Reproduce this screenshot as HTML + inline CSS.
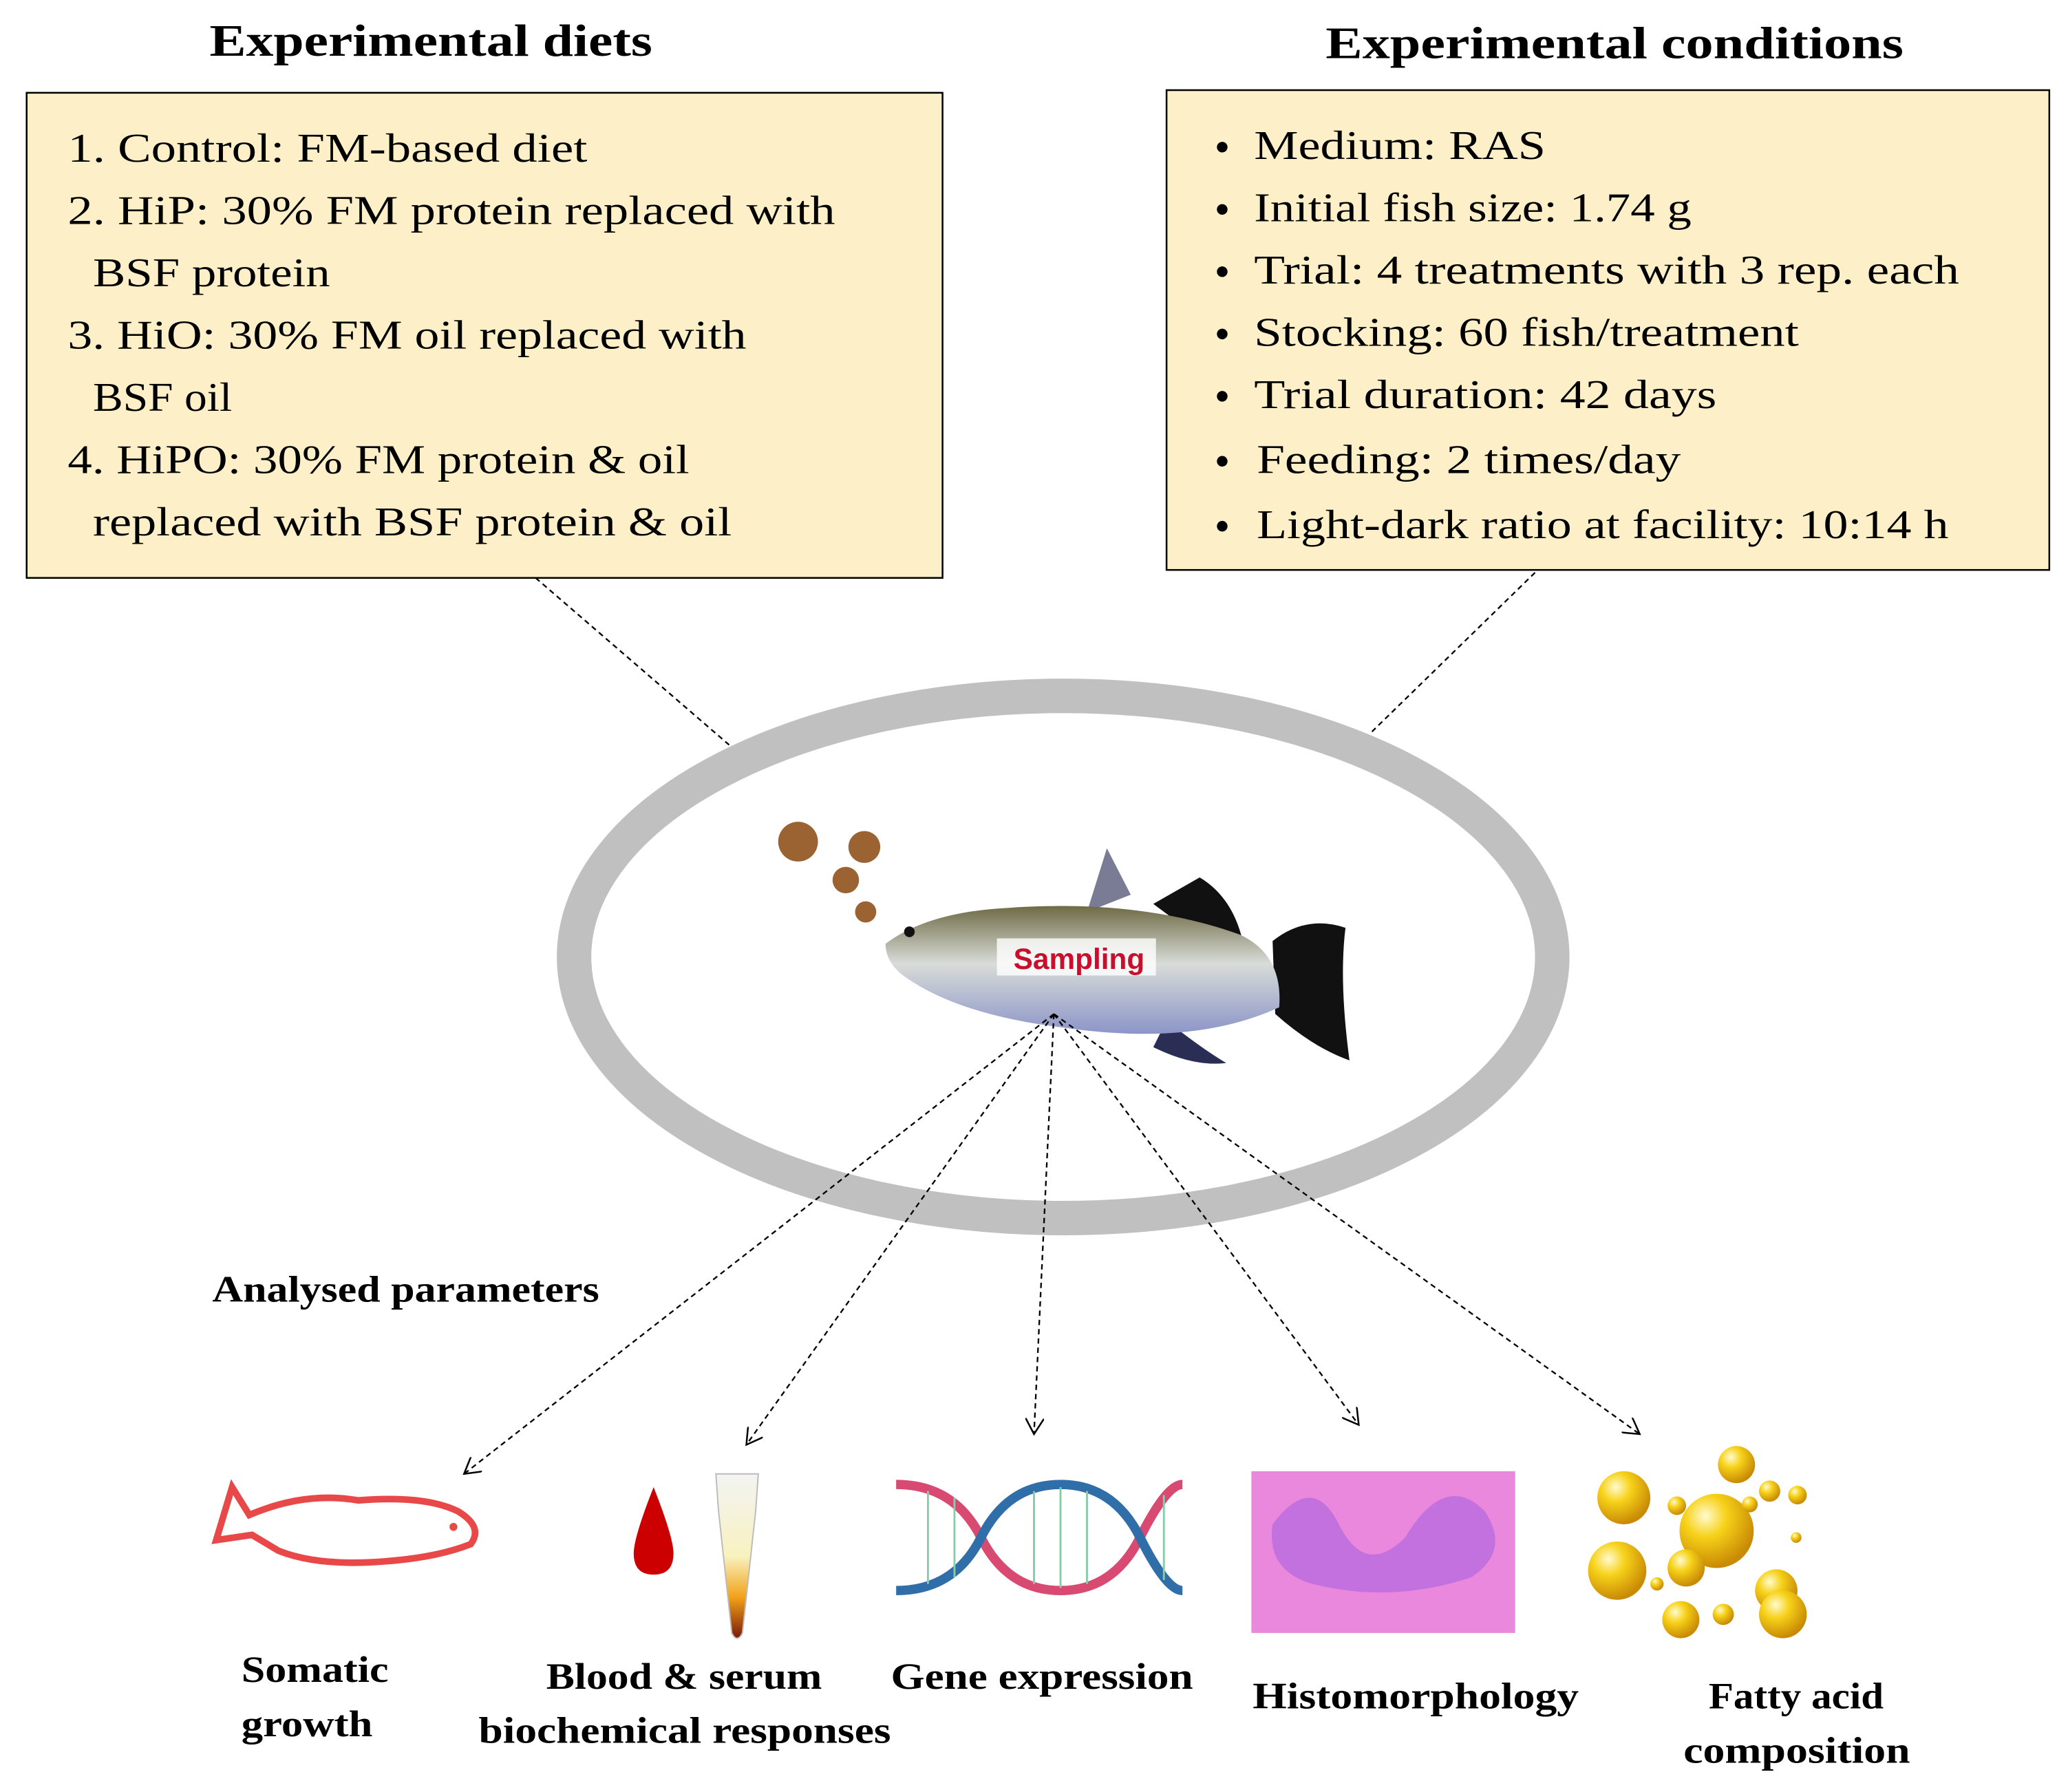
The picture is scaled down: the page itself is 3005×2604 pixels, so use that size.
<!DOCTYPE html>
<html><head><meta charset="utf-8"><style>
html,body{margin:0;padding:0;background:#fff}
svg{display:block}
text{font-family:"Liberation Serif",serif;fill:#000}
.b{font-weight:bold}
</style></head><body>
<svg width="3005" height="2604" viewBox="0 0 1560 1352" xmlns="http://www.w3.org/2000/svg">
<defs>
<marker id="ah" markerWidth="14" markerHeight="14" refX="12" refY="7" orient="auto" markerUnits="userSpaceOnUse">
<path d="M0,0 L12,7 L0,14" fill="none" stroke="#000" stroke-width="1.3"/></marker>
<radialGradient id="gold" cx="0.35" cy="0.3" r="0.7"><stop offset="0" stop-color="#fffbd0"/><stop offset="0.4" stop-color="#f7d21a"/><stop offset="1" stop-color="#c98a05"/></radialGradient>
<linearGradient id="fishg" x1="0" y1="0" x2="0" y2="1"><stop offset="0" stop-color="#6e6a45"/><stop offset="0.45" stop-color="#d8dcd8"/><stop offset="1" stop-color="#8c95c8"/></linearGradient>
<linearGradient id="tube" x1="0" y1="0" x2="0" y2="1"><stop offset="0" stop-color="#f3f3f3"/><stop offset="0.5" stop-color="#f8f2c0"/><stop offset="0.75" stop-color="#f2a21a"/><stop offset="1" stop-color="#7a1a08"/></linearGradient>
</defs>

<text x="158" y="42" class="b" font-size="34" textLength="334" lengthAdjust="spacingAndGlyphs">Experimental diets</text>
<text x="1000" y="44" class="b" font-size="34" textLength="436" lengthAdjust="spacingAndGlyphs">Experimental conditions</text>

<rect x="20" y="70" width="691" height="366" fill="#fdf0c8" stroke="#000" stroke-width="1.3"/>
<g font-size="31" lengthAdjust="spacingAndGlyphs">
<text x="51" y="122" textLength="392" lengthAdjust="spacingAndGlyphs">1. Control: FM-based diet</text>
<text x="51" y="169" textLength="579" lengthAdjust="spacingAndGlyphs">2. HiP: 30% FM protein replaced with</text>
<text x="70" y="216" textLength="179" lengthAdjust="spacingAndGlyphs">BSF protein</text>
<text x="51" y="263" textLength="512" lengthAdjust="spacingAndGlyphs">3. HiO: 30% FM oil replaced with</text>
<text x="70" y="310" textLength="105" lengthAdjust="spacingAndGlyphs">BSF oil</text>
<text x="51" y="357" textLength="469" lengthAdjust="spacingAndGlyphs">4. HiPO: 30% FM protein &amp; oil</text>
<text x="70" y="404" textLength="482" lengthAdjust="spacingAndGlyphs">replaced with BSF protein &amp; oil</text>
</g>

<rect x="880" y="68" width="666" height="362" fill="#fdf0c8" stroke="#000" stroke-width="1.3"/>
<g font-size="31">
<g fill="#000"><circle cx="922" cy="111" r="4"/><circle cx="922" cy="158" r="4"/><circle cx="922" cy="205" r="4"/><circle cx="922" cy="252" r="4"/><circle cx="922" cy="299" r="4"/><circle cx="922" cy="348" r="4"/><circle cx="922" cy="397" r="4"/></g>
<text x="946" y="120" textLength="220" lengthAdjust="spacingAndGlyphs">Medium: RAS</text>
<text x="946" y="167" textLength="330" lengthAdjust="spacingAndGlyphs">Initial fish size: 1.74 g</text>
<text x="946" y="214" textLength="532" lengthAdjust="spacingAndGlyphs">Trial: 4 treatments with 3 rep. each</text>
<text x="946" y="261" textLength="411" lengthAdjust="spacingAndGlyphs">Stocking: 60 fish/treatment</text>
<text x="946" y="308" textLength="349" lengthAdjust="spacingAndGlyphs">Trial duration: 42 days</text>
<text x="948" y="357" textLength="320" lengthAdjust="spacingAndGlyphs">Feeding: 2 times/day</text>
<text x="948" y="406" textLength="522" lengthAdjust="spacingAndGlyphs">Light-dark ratio at facility: 10:14 h</text>
</g>

<g stroke="#000" stroke-width="1.2" stroke-dasharray="4,3" fill="none">
<line x1="404" y1="436" x2="550" y2="562"/>
<line x1="1158" y1="432" x2="1035" y2="552"/>
</g>

<ellipse cx="802" cy="722" rx="369" ry="197" fill="none" stroke="#c0c0c0" stroke-width="26"/>

<g fill="#9b6232"><circle cx="602" cy="635" r="15"/><circle cx="652" cy="639" r="12"/><circle cx="638" cy="664" r="10"/><circle cx="653" cy="688" r="8"/></g>
<path d="M870,682 L905,662 Q935,680 940,725 L905,708Z" fill="#111"/>
<path d="M960,710 Q985,690 1015,700 Q1010,740 1018,800 Q990,790 962,765Z" fill="#111"/>
<path d="M835,640 L853,675 L820,688Z" fill="#7a7c95"/>
<path d="M880,770 Q905,790 925,802 Q900,805 870,790Z" fill="#2a2e55"/>
<path d="M668,712 Q700,688 760,685 Q860,678 935,705 Q968,720 965,760 Q900,790 800,775 Q720,765 680,735 Q668,725 668,712Z" fill="url(#fishg)"/>
<circle cx="686" cy="703" r="4" fill="#111"/>
<rect x="752" y="708" width="120" height="28" fill="#fff" opacity="0.8"/>
<text x="814" y="731" font-family="Liberation Sans,sans-serif" font-weight="bold" font-size="22" style="fill:#c8102e;font-family:'Liberation Sans',sans-serif" text-anchor="middle">Sampling</text>

<g stroke="#000" stroke-width="1.2" stroke-dasharray="4,3" fill="none" marker-end="url(#ah)">
<line x1="795" y1="765" x2="350" y2="1112"/>
<line x1="795" y1="765" x2="563" y2="1090"/>
<line x1="795" y1="765" x2="780" y2="1082"/>
<line x1="795" y1="765" x2="1025" y2="1075"/>
<line x1="795" y1="765" x2="1237" y2="1082"/>
</g>

<text x="160" y="982" class="b" font-size="28" textLength="292" lengthAdjust="spacingAndGlyphs">Analysed parameters</text>

<path d="M175,1122 L188,1143 Q230,1125 270,1132 Q320,1128 345,1140 Q365,1152 355,1165 Q330,1175 290,1178 Q240,1182 210,1170 L190,1158 L163,1162 Z" fill="none" stroke="#e84848" stroke-width="5"/>
<circle cx="342" cy="1152" r="3" fill="#e84848"/>
<path d="M493,1122 Q478,1160 478,1172 Q478,1188 493,1188 Q508,1188 508,1172 Q508,1160 493,1122Z" fill="#cc0000"/>
<path d="M540,1112 L572,1112 L570,1140 L560,1232 Q556,1240 552,1232 L542,1140Z" fill="url(#tube)" stroke="#bbb" stroke-width="1"/>
<g fill="none" stroke-width="7">
<path d="M676,1120 Q720,1120 740,1160 Q760,1200 800,1200 Q840,1200 860,1160 Q880,1120 892,1120" stroke="#d84a72"/>
<path d="M676,1200 Q720,1200 740,1160 Q760,1120 800,1120 Q840,1120 860,1160 Q880,1200 892,1200" stroke="#2f6ea8"/>
</g>
<g stroke="#8ca" stroke-width="1.5"><line x1="700" y1="1125" x2="700" y2="1195"/><line x1="720" y1="1130" x2="720" y2="1190"/><line x1="780" y1="1125" x2="780" y2="1195"/><line x1="800" y1="1122" x2="800" y2="1198"/><line x1="820" y1="1125" x2="820" y2="1195"/><line x1="878" y1="1128" x2="878" y2="1192"/></g>
<path d="M944,1110 L1143,1110 L1143,1232 L944,1232Z" fill="#e988dc"/>
<path d="M960,1150 Q990,1110 1010,1150 Q1030,1190 1060,1160 Q1090,1110 1120,1140 Q1140,1170 1110,1190 Q1050,1210 990,1195 Q955,1185 960,1150Z" fill="#b86be0" opacity="0.8"/>
<g fill="url(#gold)">
<circle cx="1225" cy="1130" r="20"/><circle cx="1310" cy="1105" r="14"/><circle cx="1295" cy="1155" r="28"/><circle cx="1220" cy="1185" r="22"/>
<circle cx="1272" cy="1183" r="14"/><circle cx="1340" cy="1200" r="16"/><circle cx="1345" cy="1218" r="18"/><circle cx="1268" cy="1222" r="14"/>
<circle cx="1335" cy="1125" r="8"/><circle cx="1356" cy="1128" r="7"/><circle cx="1265" cy="1136" r="7"/><circle cx="1300" cy="1218" r="8"/><circle cx="1250" cy="1195" r="5"/><circle cx="1355" cy="1160" r="4"/><circle cx="1320" cy="1135" r="6"/>
</g>

<g class="b" font-size="28" font-weight="bold">
<text x="182" y="1269" textLength="111" lengthAdjust="spacingAndGlyphs">Somatic</text>
<text x="182" y="1310" textLength="99" lengthAdjust="spacingAndGlyphs">growth</text>
<text x="412" y="1274" textLength="208" lengthAdjust="spacingAndGlyphs">Blood &amp; serum</text>
<text x="361" y="1315" textLength="311" lengthAdjust="spacingAndGlyphs">biochemical responses</text>
<text x="672" y="1274" textLength="228" lengthAdjust="spacingAndGlyphs">Gene expression</text>
<text x="945" y="1289" textLength="246" lengthAdjust="spacingAndGlyphs">Histomorphology</text>
<text x="1289" y="1289" textLength="132" lengthAdjust="spacingAndGlyphs">Fatty acid</text>
<text x="1270" y="1330" textLength="171" lengthAdjust="spacingAndGlyphs">composition</text>
</g>
</svg>
</body></html>
